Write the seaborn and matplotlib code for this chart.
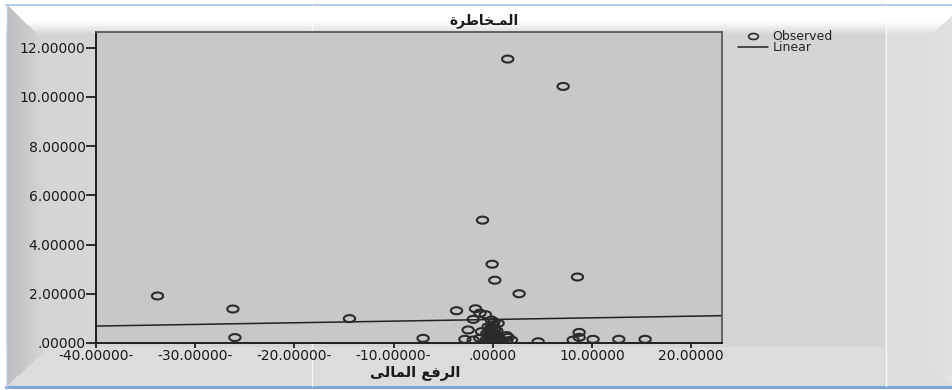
import numpy as np
import pandas as pd
import matplotlib
matplotlib.use("Agg")
import matplotlib.pyplot as plt
from matplotlib.path import Path
from matplotlib.lines import Line2D
import seaborn as sns

# Financial leverage (x) against risk (y), one point per observation
leverage = [
    1.50, 7.09, -1.04, -0.07, 0.20, 8.53, 2.65, -3.66, -1.75, -14.45,
    -33.80, -26.20, -26.00, -7.03, 4.57, 8.70, 8.70, 8.10, 10.10, 12.70,
    15.35, -1.30, -0.75, -1.98, -0.13, 0.53, -2.49, -1.14, -0.30, -0.47,
    0.20, 1.54, -2.82, -1.98, -1.31, -0.64, 0.03, 0.70, 1.38, 1.88,
    -0.47, -0.13, 0.03, 1.38, 0.00, -0.20, 0.30, 0.10, -0.10, 0.15,
    -0.35, 0.45, -0.55, -0.25, 0.25, 0.05, -0.05, 0.35, -0.40, 0.60,
    -0.15, 0.10, -0.60, 0.40, 0.00,
]
risk = [
    11.53, 10.42, 4.99, 3.20, 2.55, 2.68, 2.00, 1.31, 1.39, 0.99,
    1.91, 1.38, 0.22, 0.19, 0.05, 0.43, 0.23, 0.12, 0.15, 0.15,
    0.15, 1.21, 1.15, 0.96, 0.93, 0.80, 0.53, 0.46, 0.53, 0.66,
    0.39, 0.23, 0.15, 0.12, 0.19, 0.15, 0.12, 0.15, 0.08, 0.12,
    0.33, 0.60, 0.73, 0.30, 0.25, 0.05, 0.28, 0.02, 0.45, 0.55,
    0.22, 0.05, 0.05, 0.35, 0.10, 0.42, 0.18, 0.12, 0.30, 0.25,
    0.65, 0.85, 0.40, 0.50, 0.08,
]

# Linear trend line (intercept, slope)
linear_intercept = 0.955
linear_slope = 0.0067

x_ticks = [-40, -30, -20, -10, 0, 10, 20]
x_ticklabels = ["-40.00000-", "-30.00000-", "-20.00000-", "-10.00000-",
                ".00000", "10.00000", "20.00000"]
y_ticks = [0, 2, 4, 6, 8, 10, 12]
y_ticklabels = [".00000", "2.00000", "4.00000", "6.00000", "8.00000",
                "10.00000", "12.00000"]

# Arabic labels in shaped (presentation) form, visual order
title_text = "\uFE93\uFEAE\uFEC3\uFE8E\uFEA8\u0640\uFEE4\uFEDF\uFE8D"      # المخاطرة
xlabel_text = ("\uFEF0\uFEDF\uFE8E\uFEE4\uFEDF\uFE8D "
               "\uFECA\uFED3\uFEAE\uFEDF\uFE8D")                          # الرفع المالى

df = pd.DataFrame({"leverage": leverage, "risk": risk})

sns.set_theme(style="white")
plt.rcParams["font.family"] = ["DejaVu Sans"]

W, H = 952, 390
fig = plt.figure(figsize=(W / 100, H / 100), dpi=100)

# ---- window-like backdrop -------------------------------------------------
bg = fig.add_axes([0, 0, 1, 1], zorder=-5)
bg.set_xlim(0, W)
bg.set_ylim(H, 0)
bg.axis("off")
yy, xx = np.mgrid[0:H, 0:W].astype(float)
shade = np.full((H, W), 0.835)
bevel = (xx >= 7) & (xx < 44) & ((yy - 5) > (xx - 7) * 0.95) & ((385 - yy) > (xx - 7) * 0.9)
shade = np.where(bevel, 0.74 + (xx - 7) / 37 * 0.095, shade)
shade = np.where((yy > 346) & ~bevel, 0.86, shade)
shade = np.where(xx >= 885, 0.865, shade)
rb = (xx > 925) & ((yy - 15) > (952 - xx) * 0.9) & ((385 - yy) > (952 - xx) * 0.9)
shade = np.where(rb, 0.865 + (xx - 925) / 27 * 0.02, shade)
fade = np.clip((yy - 21) / 13, 0, 1)
topband = ~bevel & ~rb
shade = np.where(topband, shade * fade + 1.0 * (1 - fade), shade)
shade[:5, :] = 1.0
shade[388:, :] = 1.0
shade[:, :6] = 1.0
img = np.dstack([shade, shade + 0.004, shade + 0.008]).clip(0, 1)
bg.imshow(img, extent=(0, W, H, 0), aspect="auto", interpolation="bilinear")
bg.plot([6, W], [5, 5], color="#a9c5e3", lw=1.2)
bg.plot([6, W], [387, 387], color="#7ea6d6", lw=2.2)
bg.plot([6.5, 6.5], [5, 387], color="#b7cde6", lw=1.0)
for sx in (311.5, 885.5):
    bg.plot([sx, sx], [5, 386], color="white", lw=0.9, alpha=0.8)

# ---- scatter plot ----------------------------------------------------------
left, right, top, bottom = 96, 722, 32, 343
ax = fig.add_axes([left / W, 1 - bottom / H, (right - left) / W, (bottom - top) / H])
ax.set_facecolor("#c8c8c8")
ax.set_xlim(-40, 23.1)
ax.set_ylim(0, 12.63)

theta = np.linspace(0, 2 * np.pi, 60)
ellipse = Path(np.column_stack([np.cos(theta), 0.62 * np.sin(theta)]), closed=True)

sns.scatterplot(data=df, x="leverage", y="risk", ax=ax, marker=ellipse, s=66,
                facecolors="none", edgecolor="#2a2a2a", linewidth=1.5,
                zorder=3, legend=False)

xs = np.array(ax.get_xlim())
trend = pd.DataFrame({"leverage": xs, "fit": linear_intercept + linear_slope * xs})
sns.lineplot(data=trend, x="leverage", y="fit", ax=ax, color="#222222", lw=1.1,
             zorder=2, legend=False)
ax.set_xlim(-40, 23.1)

ax.set_xticks(x_ticks)
ax.set_xticklabels(x_ticklabels)
ax.set_yticks(y_ticks)
ax.set_yticklabels(y_ticklabels)
ax.tick_params(axis="y", direction="out", length=7, width=1.2, pad=0.5,
               labelsize=10, labelcolor="#1a1a1a", color="#111111", left=True)
ax.tick_params(axis="x", direction="out", length=3.5, width=1.2, pad=1,
               labelsize=10, labelcolor="#1a1a1a", color="#111111", bottom=True)
ax.set_xlabel("")
ax.set_ylabel("")
for side in ("left", "bottom"):
    ax.spines[side].set_color("#111111")
    ax.spines[side].set_linewidth(1.3)
for side in ("top", "right"):
    ax.spines[side].set_color("#5a5a5a")
    ax.spines[side].set_linewidth(1.3)

fig.text(484 / W, 1 - 21 / H, title_text, ha="center", va="center",
         fontsize=10, fontweight="bold", color="#1a1a1a",
         family=["DejaVu Sans"])
fig.text(415 / W, 1 - 372 / H, xlabel_text, ha="center", va="center",
         fontsize=10.5, fontweight="bold", color="#1a1a1a",
         family=["DejaVu Sans"])

handles = [
    Line2D([], [], marker=ellipse, markersize=7, markerfacecolor="none",
           markeredgecolor="#2a2a2a", markeredgewidth=1.2, linestyle="none"),
    Line2D([], [], color="#222222", lw=1.1),
]
fig.legend(handles, ["Observed", "Linear"], loc="upper left",
           bbox_to_anchor=(738 / W, 1 - 30 / H), frameon=False, fontsize=9,
           handlelength=2.4, handletextpad=0.35, labelspacing=-0.15,
           borderaxespad=0, borderpad=0)

fig.savefig("out.png", dpi=100)
